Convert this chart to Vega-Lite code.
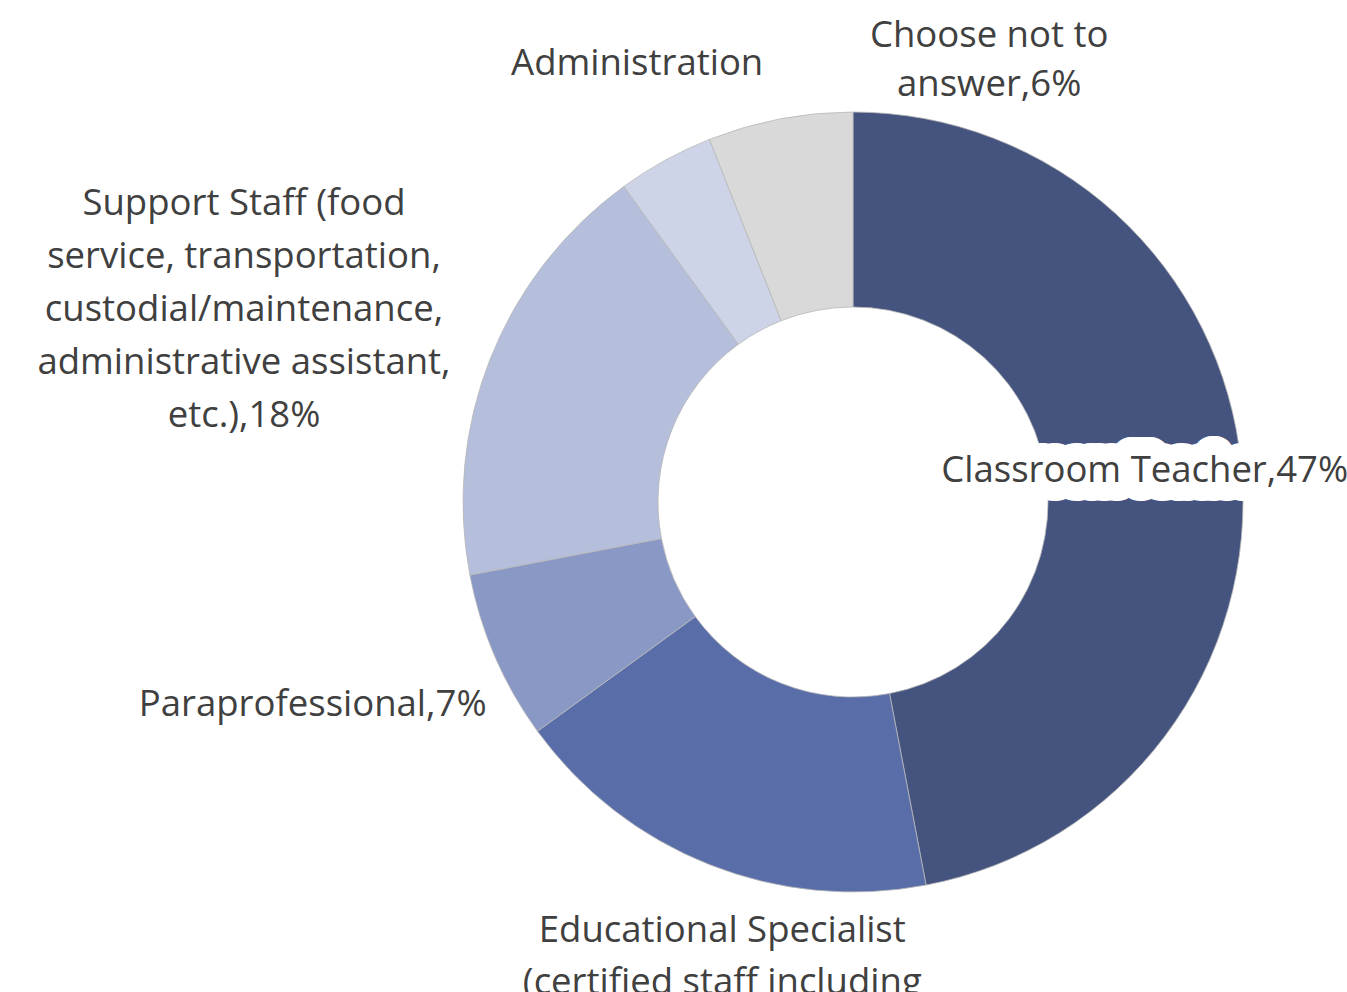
{
  "$schema": "https://vega.github.io/schema/vega-lite/v6.json",
  "width": 980,
  "height": 980,
  "autosize": {"type": "none"},
  "padding": {"left": 363, "top": 12, "right": 4, "bottom": 0},
  "background": "white",
  "config": {"view": {"stroke": null}},
  "data": {
    "values": [
      {"rank": 1, "category": "Classroom Teacher", "value": 47, "label": "Classroom Teacher,47%"},
      {"rank": 2, "category": "Educational Specialist", "value": 18, "label": "Educational Specialist\n(certified staff including"},
      {"rank": 3, "category": "Paraprofessional", "value": 7, "label": "Paraprofessional,7%"},
      {"rank": 4, "category": "Support Staff", "value": 18, "label": "Support Staff (food\nservice, transportation,\ncustodial/maintenance,\nadministrative assistant,\netc.),18%"},
      {"rank": 5, "category": "Administration", "value": 4, "label": "Administration"},
      {"rank": 6, "category": "Choose not to answer", "value": 6, "label": "Choose not to\nanswer,6%"}
    ]
  },
  "encoding": {
    "theta": {"field": "value", "type": "quantitative", "stack": true},
    "order": {"field": "rank", "type": "quantitative", "sort": "ascending"},
    "detail": {"field": "category", "type": "nominal"}
  },
  "layer": [
    {
      "mark": {"type": "arc", "outerRadius": 390, "innerRadius": 195, "stroke": "#b8b8b8", "strokeWidth": 0.8},
      "encoding": {
        "color": {
          "field": "category",
          "type": "nominal",
          "scale": {
            "domain": ["Classroom Teacher", "Educational Specialist", "Paraprofessional", "Support Staff", "Administration", "Choose not to answer"],
            "range": ["#44547f", "#596da9", "#8a98c6", "#b5bedb", "#ced4e8", "#d9d9d9"]
          },
          "legend": null
        }
      }
    },
    {
      "mark": {"type": "text", "radius": 293, "dy": -3, "font": "Open Sans", "fontSize": 36.5, "align": "center", "baseline": "middle", "lineBreak": "\n", "lineHeight": 52, "fill": "white", "stroke": "white", "strokeWidth": 38, "strokeJoin": "round"},
      "encoding": {"text": {"condition": {"test": "datum.category === 'Classroom Teacher'", "field": "label", "type": "nominal"}, "value": ""}}
    },
    {
      "mark": {"type": "text", "radius": 293, "dy": -3, "font": "Open Sans", "fontSize": 36.5, "align": "center", "baseline": "middle", "lineBreak": "\n", "lineHeight": 52, "fill": "#404040"},
      "encoding": {"text": {"condition": {"test": "datum.category === 'Classroom Teacher'", "field": "label", "type": "nominal"}, "value": ""}}
    },
    {
      "mark": {"type": "text", "radius": 461, "dx": 39, "font": "Open Sans", "fontSize": 36.5, "align": "center", "baseline": "middle", "lineBreak": "\n", "lineHeight": 52, "fill": "#404040"},
      "encoding": {"text": {"condition": {"test": "datum.category === 'Educational Specialist'", "field": "label", "type": "nominal"}, "value": ""}}
    },
    {
      "mark": {"type": "text", "radius": 580, "dx": -8, "dy": -27, "font": "Open Sans", "fontSize": 36.5, "align": "center", "baseline": "middle", "lineBreak": "\n", "lineHeight": 52, "fill": "#404040"},
      "encoding": {"text": {"condition": {"test": "datum.category === 'Paraprofessional'", "field": "label", "type": "nominal"}, "value": ""}}
    },
    {
      "mark": {"type": "text", "radius": 655, "dy": -57, "font": "Open Sans", "fontSize": 36.5, "align": "center", "baseline": "middle", "lineBreak": "\n", "lineHeight": 53, "fill": "#404040"},
      "encoding": {"text": {"condition": {"test": "datum.category === 'Support Staff'", "field": "label", "type": "nominal"}, "value": ""}}
    },
    {
      "mark": {"type": "text", "radius": 475, "dx": 13, "dy": -22, "font": "Open Sans", "fontSize": 36.5, "align": "center", "baseline": "middle", "lineBreak": "\n", "lineHeight": 52, "fill": "#404040"},
      "encoding": {"text": {"condition": {"test": "datum.category === 'Administration'", "field": "label", "type": "nominal"}, "value": ""}}
    },
    {
      "mark": {"type": "text", "radius": 474, "dx": 225, "font": "Open Sans", "fontSize": 36.5, "align": "center", "baseline": "middle", "lineBreak": "\n", "lineHeight": 49, "fill": "#404040"},
      "encoding": {"text": {"condition": {"test": "datum.category === 'Choose not to answer'", "field": "label", "type": "nominal"}, "value": ""}}
    }
  ]
}
